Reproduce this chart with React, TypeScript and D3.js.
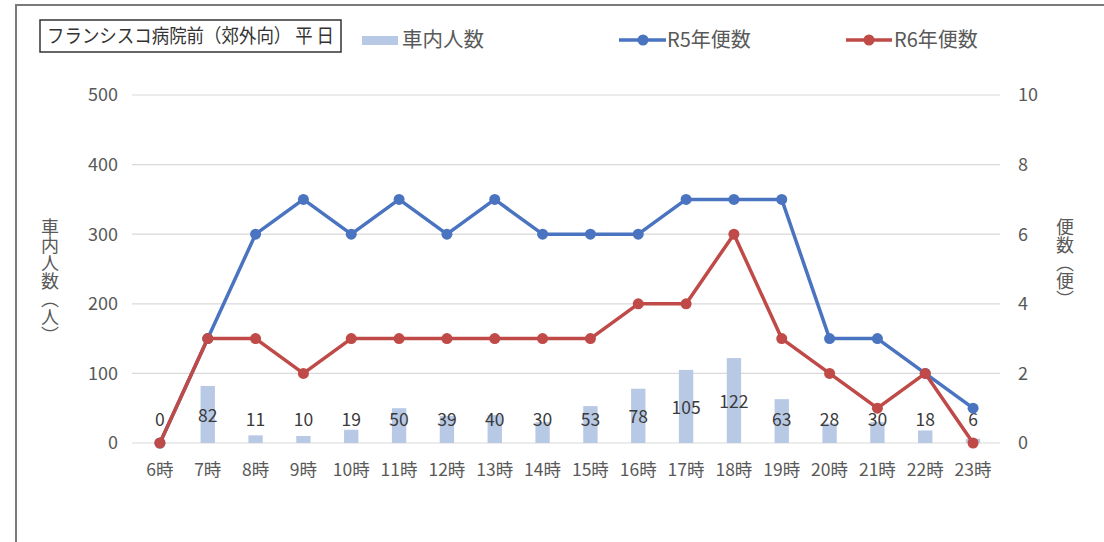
import React from "react";
import * as d3 from "d3";

const categories = ["6時","7時","8時","9時","10時","11時","12時","13時","14時","15時","16時","17時","18時","19時","20時","21時","22時","23時"];
const passengers = [0,82,11,10,19,50,39,40,30,53,78,105,122,63,28,30,18,6];
const r5Trips = [0,3,6,7,6,7,6,7,6,6,6,7,7,7,3,3,2,1];
const r6Trips = [0,3,3,2,3,3,3,3,3,3,4,4,6,3,2,1,2,0];
const leftTicks = [0,100,200,300,400,500];
const rightTicks = [0,2,4,6,8,10];

const W = 1104, H = 542;
const FONT = "'Noto Sans CJK JP', 'Noto Sans', sans-serif";
const BLUE = "#4a74c0";
const RED = "#bf4a47";
const BAR = "#b8c9e5";

export default function App() {
  const x = d3.scaleBand<string>().domain(categories).range([136, 997]).paddingInner(0).paddingOuter(0);
  const yL = d3.scaleLinear().domain([0, 500]).range([443, 95]);
  const yR = d3.scaleLinear().domain([0, 10]).range([443, 95]);
  const cx = (c: string) => (x(c) ?? 0) + x.bandwidth() / 2;
  const barW = x.bandwidth() * 0.3;
  const line = d3.line<number>().x((_, i) => cx(categories[i])).y((d) => yR(d));

  return (
    <svg width={W} height={H} style={{ position: "absolute", left: 0, top: 0, background: "#fff" }} fontFamily={FONT}>
      <rect x={0} y={0} width={W} height={H} fill="#fff" />
      <rect x={16} y={5} width={1100} height={560} fill="none" stroke="#7a7a7a" strokeWidth={2} />

      {/* gridlines */}
      {leftTicks.map((t) => (
        <line key={t} x1={132} x2={1000} y1={yL(t)} y2={yL(t)} stroke="#d9d9d9" strokeWidth={1.2} />
      ))}

      {/* bars */}
      {passengers.map((v, i) => (
        <rect key={i} x={cx(categories[i]) - barW / 2} y={yL(v)} width={barW} height={yL(0) - yL(v)} fill={BAR} />
      ))}

      {/* bar labels */}
      {passengers.map((v, i) => (
        <text key={i} x={cx(categories[i])} y={420 - Math.max(0, v - 70) * 0.35} dy="0.35em" textAnchor="middle" fontSize={17.5} fill="#3a3a3a">{v}</text>
      ))}

      {/* lines */}
      <path d={line(r5Trips) ?? ""} fill="none" stroke={BLUE} strokeWidth={3.5} strokeLinejoin="round" />
      {r5Trips.map((v, i) => (
        <circle key={i} cx={cx(categories[i])} cy={yR(v)} r={5.5} fill={BLUE} />
      ))}
      <path d={line(r6Trips) ?? ""} fill="none" stroke={RED} strokeWidth={3.5} strokeLinejoin="round" />
      {r6Trips.map((v, i) => (
        <circle key={i} cx={cx(categories[i])} cy={yR(v)} r={5.5} fill={RED} />
      ))}

      {/* left axis labels */}
      {leftTicks.map((t) => (
        <text key={t} x={118} y={yL(t)} dy="0.35em" textAnchor="end" fontSize={18} fill="#595959">{t}</text>
      ))}
      {/* right axis labels */}
      {rightTicks.map((t) => (
        <text key={t} x={1018} y={yR(t)} dy="0.35em" textAnchor="start" fontSize={18} fill="#595959">{t}</text>
      ))}
      {/* x labels */}
      {categories.map((c) => (
        <text key={c} x={cx(c)} y={470} dy="0.35em" textAnchor="middle" fontSize={17.5} fill="#595959">{c}</text>
      ))}

      {/* axis titles */}
      <text x={50} y={218} fontSize={18} fill="#595959" style={{ writingMode: "vertical-rl", textOrientation: "upright" } as any}>車内人数（人）</text>
      <text x={1065} y={218} fontSize={18} fill="#595959" style={{ writingMode: "vertical-rl", textOrientation: "upright" } as any}>便数（便）</text>

      {/* title box */}
      <rect x={40} y={20} width={301} height={32} fill="#fff" stroke="#333" strokeWidth={1.5} />
      <text x={47} y={36} dy="0.35em" fontSize={19} fill="#333" textLength={287} lengthAdjust="spacingAndGlyphs">フランシスコ病院前（郊外向） 平 日</text>

      {/* legend */}
      <rect x={362} y={36} width={36} height={9} fill={BAR} />
      <text x={402} y={40} dy="0.35em" fontSize={20.5} fill="#595959">車内人数</text>

      <line x1={619} x2={666} y1={40} y2={40} stroke={BLUE} strokeWidth={3.5} />
      <circle cx={643} cy={40} r={5.5} fill={BLUE} />
      <text x={667} y={40} dy="0.35em" fontSize={20} fill="#595959">R5年便数</text>

      <line x1={846} x2={892} y1={40} y2={40} stroke={RED} strokeWidth={3.5} />
      <circle cx={869} cy={40} r={5.5} fill={RED} />
      <text x={894} y={40} dy="0.35em" fontSize={20} fill="#595959">R6年便数</text>
    </svg>
  );
}
